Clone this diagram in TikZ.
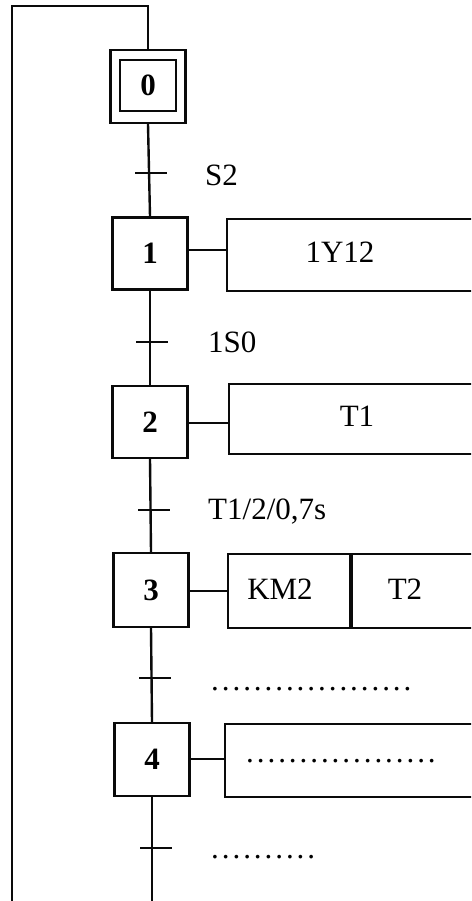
\documentclass[tikz,border=0pt]{standalone}
\usepackage{fontspec}
\setmainfont{Liberation Serif}
\usetikzlibrary{calc}
\definecolor{ink}{RGB}{10,10,10}
\newcommand\bigtxt{\fontsize{31}{37}\selectfont}
\newcommand\dottxt{\bigtxt\addfontfeature{LetterSpace=9.5}}

\begin{document}
\begin{tikzpicture}[x=1pt,y=-1pt,
  stepbox/.style={draw=ink,line width=2.4pt,minimum width=75pt,minimum height=72pt,inner sep=0pt,font=\bigtxt\bfseries},
  actbox/.style={draw=ink,line width=2pt,anchor=north west,minimum height=72pt,inner sep=0pt},
  cond/.style={anchor=west,inner sep=0pt,font=\bigtxt},
  lbl/.style={inner sep=0pt,font=\bigtxt},
  link/.style={ink,line width=2.4pt},
  trans/.style={ink,line width=1.8pt}]
\useasboundingbox (0,0) rectangle (471,901);
\clip (0,0) rectangle (471,901);
% steps
\node[stepbox,minimum width=56pt,minimum height=51pt] (s0) at (148,85.5) {0};
\node[stepbox,minimum width=75pt,minimum height=73pt] (s0f) at (148,86.5) {};
\node[stepbox] (s1) at (150,253.5) {1};
\node[stepbox] (s2) at (150,422) {2};
\node[stepbox,minimum height=74pt] (s3) at (151,590) {3};
\node[stepbox,minimum height=73pt] (s4) at (152,759.5) {4};
% actions
\node[actbox,minimum width=300pt] (a1) at (226,218) {};
\node[lbl] (a1t) at (340,252) {1Y12};
\node[actbox,minimum width=300pt,minimum height=70pt] (a2) at (228,383) {};
\node[lbl] (a2t) at (357,416) {T1};
\node[actbox,minimum width=122pt,minimum height=74pt] (a3) at (227,553) {};
\node[actbox,minimum width=200pt,minimum height=74pt] (a3b) at (a3.north east) {};
\node[lbl] (a3t) at (280,589) {KM2};
\node[lbl] (a3bt) at (405,589) {T2};
\node[actbox,minimum width=300pt,minimum height=73pt] (a4) at (224,723) {};
\node[cond,font=\dottxt] (a4t) at (246,761) {..................};
% sequence line
\draw[link] (s0f.south) -- (s1.north);
\draw[link] (s1.south) -- (s2.north);
\draw[link] (s2.south) -- (s3.north);
\draw[link] (s3.south) -- (s4.north);
\draw[link] (s4.south) -- ++(0,200) coordinate (bot);
\draw[link] (s0f.north) -- (148,6) coordinate (top) -- (12,6) -- (12,920);
% links step -> action
\draw[trans] (s1.east |- 0,250) -- (a1.west |- 0,250);
\draw[trans] (s2.east |- 0,423) -- (a2.west |- 0,423);
\draw[trans] (s3.east |- 0,591) -- (a3.west |- 0,591);
\draw[trans] (s4.east |- 0,759) -- (a4.west |- 0,759);
% transitions
\draw[trans] (135,173) -- (167,173);
\node[cond] (c1) at (205,175) {S2};
\draw[trans] (136,342) -- (168,342);
\node[cond] (c2) at (208,342) {1S0};
\draw[trans] (138,510) -- (170,510);
\node[cond] (c3) at (208,512) {T1/2/0,7s};
\draw[trans] (139,678) -- (171,678);
\node[cond,font=\dottxt] (c4) at (211,689) {...................};
\draw[trans] (140,848) -- (172,848);
\node[cond,font=\dottxt] (c5) at (211,857) {..........};
\end{tikzpicture}
\end{document}
